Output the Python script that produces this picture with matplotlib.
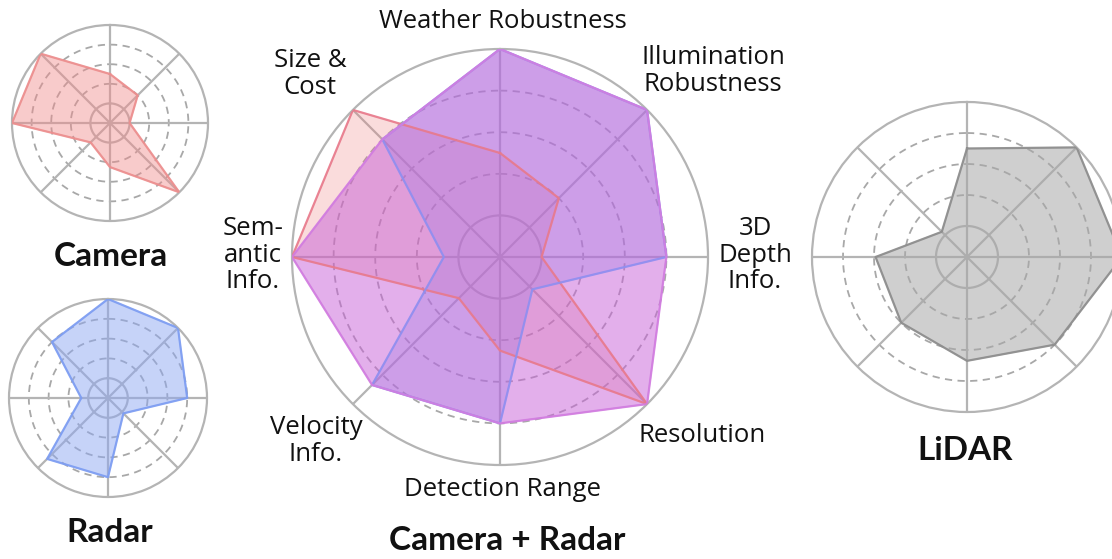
import numpy as np
import matplotlib
matplotlib.use("Agg")
import matplotlib.pyplot as plt

plt.rcParams['font.family'] = ['Open Sans', 'DejaVu Sans']

# axis order, clockwise from the top
axis_names = ['Weather Robustness', 'Illumination\nRobustness', '3D\nDepth\nInfo.',
              'Resolution', 'Detection Range', 'Velocity\nInfo.',
              'Sem-\nantic\nInfo.', 'Size &\nCost']

camera = [0.5, 0.4, 0.2, 1.0, 0.45, 0.28, 1.0, 1.0]
radar = [1.0, 1.0, 0.8, 0.22, 0.8, 0.87, 0.27, 0.8]
fusion = [1.0, 1.0, 0.8, 1.0, 0.8, 0.87, 1.0, 0.8]
lidar = [0.7, 1.0, 1.0, 0.8, 0.67, 0.6, 0.59, 0.23]

W, H = 1112, 559
GRID = '#b4b4b4'
DASH = '#a8a8a8'

angles = np.linspace(0, 2 * np.pi, len(axis_names), endpoint=False)


def radar_axes(fig, cx, cy, r):
    """polar axes centred at pixel (cx, cy) with outer radius r pixels"""
    ax = fig.add_axes([(cx - r) / W, (H - cy - r) / H, 2 * r / W, 2 * r / H],
                      projection='polar')
    ax.set_theta_zero_location('N')
    ax.set_theta_direction(-1)
    ax.set_ylim(0, 1)
    ax.set_xticks(angles)
    ax.set_xticklabels([])
    ax.set_yticks([])
    ax.xaxis.grid(True, color=GRID, lw=1.6)
    ax.yaxis.grid(False)
    ax.spines['polar'].set_color(GRID)
    ax.spines['polar'].set_linewidth(1.6)
    ax.set_facecolor('none')
    t = np.linspace(0, 2 * np.pi, 300)
    ax.plot(t, np.full_like(t, 0.2), color=GRID, lw=1.6, zorder=1)
    for rr in [0.4, 0.6, 0.8]:
        ax.plot(t, np.full_like(t, rr), color=DASH, lw=1.3, ls=(0, (4, 3)), zorder=1)
    return ax


def draw(ax, vals, edge, fill, alpha, lw=1.6):
    th = np.append(angles, angles[0])
    v = np.append(vals, vals[0])
    ax.fill(th, v, color=fill, alpha=alpha, zorder=2)
    ax.plot(th, v, color=edge, lw=lw, alpha=0.9, zorder=3)


fig = plt.figure(figsize=(W / 100, H / 100), dpi=100)

# small camera chart
ax = radar_axes(fig, 110, 123, 98)
draw(ax, camera, '#ec8e8e', '#f08c8c', 0.45)

# small radar chart
ax = radar_axes(fig, 108, 398, 99)
draw(ax, radar, '#7d9df2', '#8ea8f2', 0.5)

# lidar chart (partly outside the figure)
ax = radar_axes(fig, 967, 257, 155)
draw(ax, lidar, '#8c8c8c', '#a8a8a8', 0.55)

# central fusion chart
ax = radar_axes(fig, 500, 257, 208)
draw(ax, camera, '#e87a8c', '#ee7777', 0.25)
draw(ax, radar, '#8f8ff0', '#6f8ff0', 0.3)
draw(ax, fusion, '#d27ee0', '#c860d8', 0.5)

# labels around the central chart
label_pos = [(503, 22), (713, 71), (755, 255), (702, 436),
             (502, 490), (316, 441), (253, 255), (310, 74)]
for name, (x, y) in zip(axis_names, label_pos):
    fig.text(x / W, 1 - y / H, name, ha='center', va='center',
             fontsize=18.5, linespacing=1.08, color='#111111')

for name, (x, y) in [('Camera', (111, 257)), ('Radar', (110, 532)),
                     ('LiDAR', (965, 450)), ('Camera + Radar', (507, 540))]:
    fig.text(x / W, 1 - y / H, name, ha='center', va='center',
             fontsize=24, fontweight='bold', family=['Lato', 'DejaVu Sans'],
             color='#111111')

fig.savefig('out.png', dpi=100)
